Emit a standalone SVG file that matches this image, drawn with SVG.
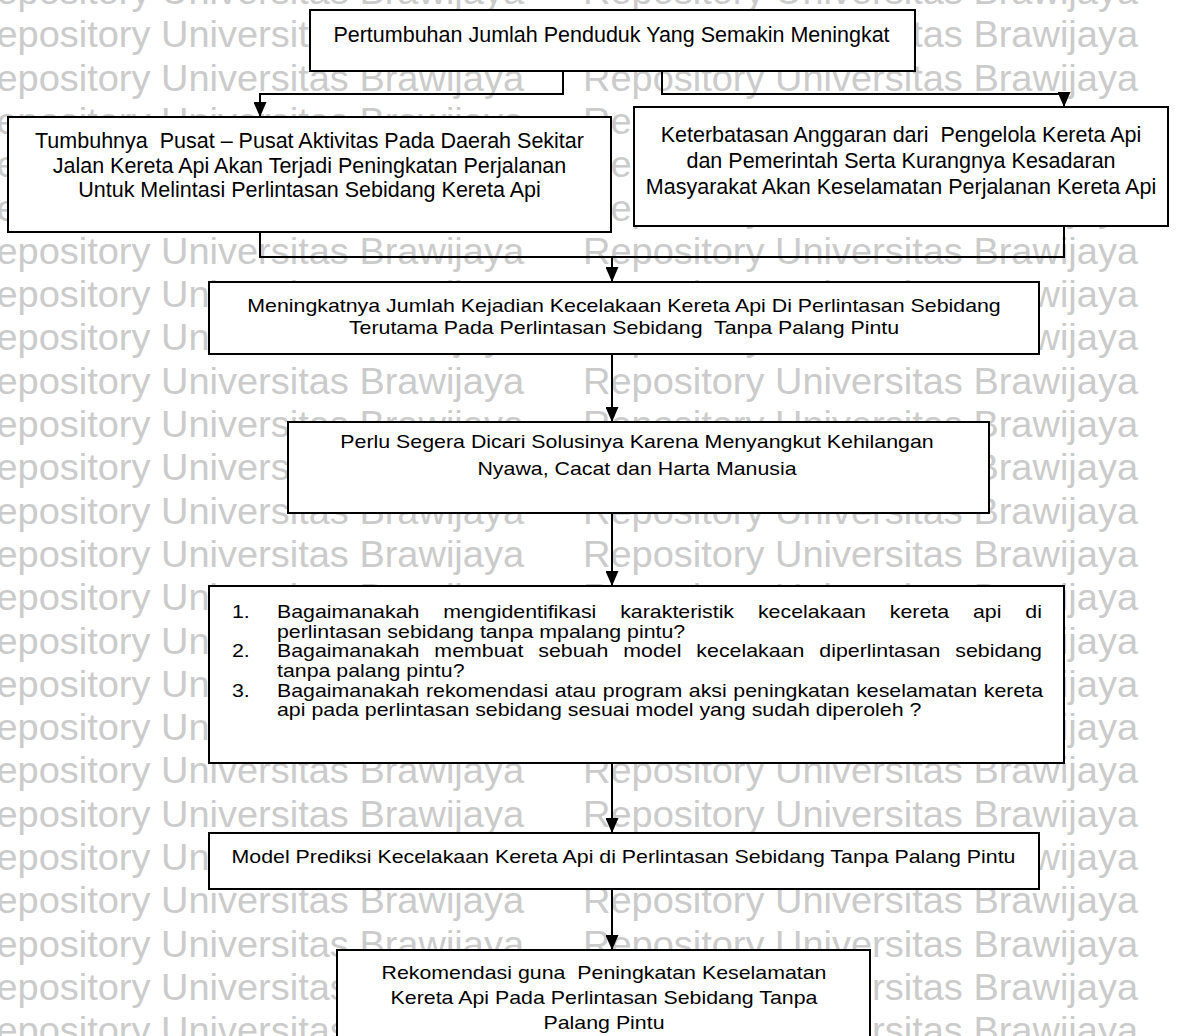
<svg xmlns="http://www.w3.org/2000/svg" width="1180" height="1036" viewBox="0 0 1180 1036">
  <style>
    .wm { font-family: "Liberation Sans", Arial, sans-serif; font-size: 36px; fill: #cbcbcb; }
    .box { fill: #ffffff; stroke: #000000; stroke-width: 2; }
    .t { font-family: "Liberation Sans", Arial, sans-serif; font-size: 21.5px; fill: #000000; text-anchor: middle; white-space: pre; }
    .s { font-family: "Liberation Sans", Arial, sans-serif; font-size: 17.5px; fill: #000000; text-anchor: middle; white-space: pre; }
    .sl { font-family: "Liberation Sans", Arial, sans-serif; font-size: 17.5px; fill: #000000; white-space: pre; }
    .link { fill: none; stroke: #000000; stroke-width: 2; }
  </style>
  <defs>
    <marker id="arr" viewBox="0 0 15 13" refX="15" refY="6.5" markerWidth="15" markerHeight="13" markerUnits="userSpaceOnUse" orient="auto">
      <path d="M0,0 L15,6.5 L0,13 z" fill="#000000"/>
    </marker>
    <g id="wmrow" class="wm">
      <text x="-31" y="0" textLength="555" lengthAdjust="spacingAndGlyphs">Repository Universitas Brawijaya</text>
      <text x="583" y="0" textLength="555" lengthAdjust="spacingAndGlyphs">Repository Universitas Brawijaya</text>
    </g>
  </defs>

  <rect width="1180" height="1036" fill="#ffffff"/>

  <!-- background watermark rows -->
  <g id="watermark">
    <use href="#wmrow" y="4"/>
    <use href="#wmrow" y="47.3"/>
    <use href="#wmrow" y="90.6"/>
    <use href="#wmrow" y="133.9"/>
    <use href="#wmrow" y="177.2"/>
    <use href="#wmrow" y="220.5"/>
    <use href="#wmrow" y="263.8"/>
    <use href="#wmrow" y="307.1"/>
    <use href="#wmrow" y="350.4"/>
    <use href="#wmrow" y="393.7"/>
    <use href="#wmrow" y="437"/>
    <use href="#wmrow" y="480.3"/>
    <use href="#wmrow" y="523.6"/>
    <use href="#wmrow" y="566.9"/>
    <use href="#wmrow" y="610.2"/>
    <use href="#wmrow" y="653.5"/>
    <use href="#wmrow" y="696.8"/>
    <use href="#wmrow" y="740.1"/>
    <use href="#wmrow" y="783.4"/>
    <use href="#wmrow" y="826.7"/>
    <use href="#wmrow" y="870"/>
    <use href="#wmrow" y="913.3"/>
    <use href="#wmrow" y="956.6"/>
    <use href="#wmrow" y="999.9"/>
    <use href="#wmrow" y="1043.2"/>
  </g>

  <!-- connectors -->
  <g id="connectors">
    <path class="link" d="M563,71 V94 H260 V117" marker-end="url(#arr)"/>
    <path class="link" d="M662,71 V94 H1064 V107" marker-end="url(#arr)"/>
    <path class="link" d="M260,232 V257 H1064 V226"/>
    <path class="link" d="M612,257 V282" marker-end="url(#arr)"/>
    <path class="link" d="M612,354 V422" marker-end="url(#arr)"/>
    <path class="link" d="M612,513 V586" marker-end="url(#arr)"/>
    <path class="link" d="M612,763 V833" marker-end="url(#arr)"/>
    <path class="link" d="M612,889 V950" marker-end="url(#arr)"/>
  </g>

  <!-- population growth -->
  <g id="n1">
    <rect class="box" x="310" y="10" width="605" height="61"/>
    <text class="t" x="611.5" y="42">Pertumbuhan Jumlah Penduduk Yang Semakin Meningkat</text>
  </g>

  <!-- activity centres -->
  <g id="n2">
    <rect class="box" x="8" y="117" width="603" height="115"/>
    <text class="t" x="309.5" y="148">Tumbuhnya  Pusat – Pusat Aktivitas Pada Daerah Sekitar</text>
    <text class="t" x="309.5" y="172.5">Jalan Kereta Api Akan Terjadi Peningkatan Perjalanan</text>
    <text class="t" x="309.5" y="197">Untuk Melintasi Perlintasan Sebidang Kereta Api</text>
  </g>

  <!-- budget limits -->
  <g id="n3">
    <rect class="box" x="634" y="107" width="534" height="119"/>
    <text class="t" x="901" y="141.5">Keterbatasan Anggaran dari  Pengelola Kereta Api</text>
    <text class="t" x="901" y="167.5">dan Pemerintah Serta Kurangnya Kesadaran</text>
    <text class="t" x="901" y="193.5">Masyarakat Akan Keselamatan Perjalanan Kereta Api</text>
  </g>

  <!-- accident increase -->
  <g id="n4">
    <rect class="box" x="209" y="282" width="830" height="72"/>
    <text class="s" transform="translate(624,312) scale(1.22,1)">Meningkatnya Jumlah Kejadian Kecelakaan Kereta Api Di Perlintasan Sebidang</text>
    <text class="s" transform="translate(624,334) scale(1.22,1)">Terutama Pada Perlintasan Sebidang  Tanpa Palang Pintu</text>
  </g>

  <!-- urgency -->
  <g id="n5">
    <rect class="box" x="288" y="422" width="701" height="91"/>
    <text class="s" transform="translate(637,448) scale(1.22,1)">Perlu Segera Dicari Solusinya Karena Menyangkut Kehilangan</text>
    <text class="s" transform="translate(637,475) scale(1.22,1)">Nyawa, Cacat dan Harta Manusia</text>
  </g>

  <!-- research questions -->
  <g id="n6">
    <rect class="box" x="209" y="586" width="855" height="177"/>
    <text class="sl" transform="translate(232,618) scale(1.22,1)">1.</text>
    <text class="sl" transform="translate(277,618) scale(1.22,1)" word-spacing="14.7">Bagaimanakah mengidentifikasi karakteristik kecelakaan kereta api di</text>
    <text class="sl" transform="translate(277,637.7) scale(1.22,1)">perlintasan sebidang tanpa mpalang pintu?</text>
    <text class="sl" transform="translate(232,657.3) scale(1.22,1)">2.</text>
    <text class="sl" transform="translate(277,657.3) scale(1.22,1)" word-spacing="7.4">Bagaimanakah membuat sebuah model kecelakaan diperlintasan sebidang</text>
    <text class="sl" transform="translate(277,677) scale(1.22,1)">tanpa palang pintu?</text>
    <text class="sl" transform="translate(232,696.6) scale(1.22,1)">3.</text>
    <text class="sl" transform="translate(277,696.6) scale(1.22,1)" word-spacing="0.5">Bagaimanakah rekomendasi atau program aksi peningkatan keselamatan kereta</text>
    <text class="sl" transform="translate(277,716) scale(1.22,1)">api pada perlintasan sebidang sesuai model yang sudah diperoleh ?</text>
  </g>

  <!-- prediction model -->
  <g id="n7">
    <rect class="box" x="209" y="833" width="830" height="56"/>
    <text class="s" transform="translate(623.5,863) scale(1.22,1)">Model Prediksi Kecelakaan Kereta Api di Perlintasan Sebidang Tanpa Palang Pintu</text>
  </g>

  <!-- recommendation -->
  <g id="n8">
    <rect class="box" x="337" y="950" width="533" height="120"/>
    <text class="s" transform="translate(604,979) scale(1.22,1)">Rekomendasi guna  Peningkatan Keselamatan</text>
    <text class="s" transform="translate(604,1004) scale(1.22,1)">Kereta Api Pada Perlintasan Sebidang Tanpa</text>
    <text class="s" transform="translate(604,1029) scale(1.22,1)">Palang Pintu</text>
  </g>
</svg>
